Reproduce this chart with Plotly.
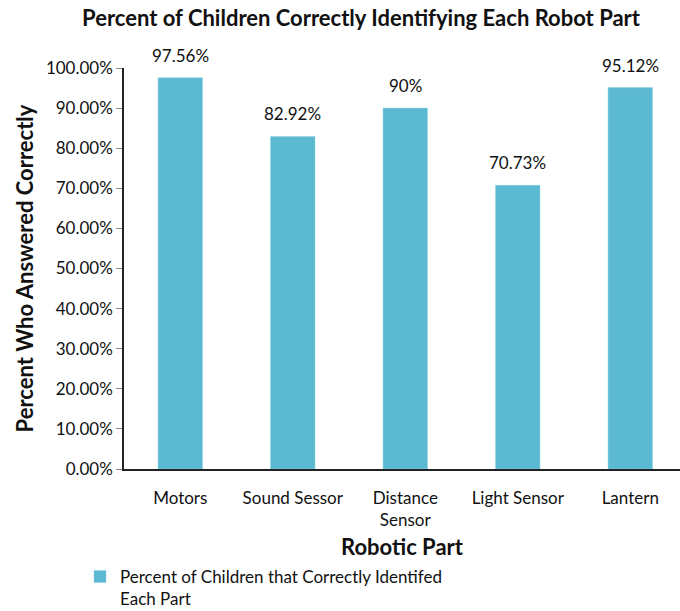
import plotly.graph_objects as go

categories = ["Motors", "Sound Sessor", "Distance<br>Sensor", "Light Sensor", "Lantern"]
values = [0.9756, 0.8292, 0.90, 0.7073, 0.9512]
value_labels = ["97.56%", "82.92%", "90%", "70.73%", "95.12%"]
y_ticks = [0, 0.1, 0.2, 0.3, 0.4, 0.5, 0.6, 0.7, 0.8, 0.9, 1.0]
series_name = "Percent of Children that Correctly Identifed<br>Each Part"

FONT = "Lato"
BAR = "#5bb9d1"
TXT = "#111"

fig = go.Figure()
fig.add_trace(go.Bar(
    x=list(range(len(categories))),
    y=values,
    width=0.395,
    marker=dict(color=BAR, line=dict(color="#8fd0e0", width=0.5)),
    name=series_name,
    showlegend=True,
    hoverinfo="x+y",
))

# value labels above the bars, positioned in data coordinates
for i, (v, lab) in enumerate(zip(values, value_labels)):
    fig.add_annotation(x=i, y=v, text=lab, showarrow=False, xanchor="center",
                       yanchor="bottom", yshift=10,
                       font=dict(family=FONT, size=17, color=TXT))

fig.update_layout(
    width=680, height=611,
    margin=dict(l=124, r=0, t=68, b=142, autoexpand=False),
    paper_bgcolor="white", plot_bgcolor="white",
    font=dict(family=FONT, size=17, color=TXT),
    title=dict(text="<b>Percent of Children Correctly Identifying Each Robot Part</b>",
               x=361 / 680, xanchor="center", y=1 - 18 / 611, yanchor="middle",
               font=dict(family=FONT, size=22, color=TXT)),
    showlegend=True,
    legend=dict(x=(80 - 124) / 556, xanchor="left", y=-(559 - 469) / 401, yanchor="top",
                font=dict(family=FONT, size=17, color=TXT), valign="top",
                borderwidth=0, bgcolor="rgba(0,0,0,0)", itemclick=False),
)

fig.update_xaxes(
    range=[-0.5, 4.442], automargin=False,
    tickmode="array", tickvals=list(range(len(categories))), ticktext=categories,
    showline=True, linecolor="#222", linewidth=1.5,
    ticks="", showgrid=False, zeroline=False,
    ticklabelstandoff=13,
    tickfont=dict(family=FONT, size=17, color=TXT),
    title=dict(text="<b>Robotic Part</b>", font=dict(family=FONT, size=22, color=TXT), standoff=10),
)
fig.update_yaxes(
    range=[0, 1.0], automargin=False,
    tickmode="array", tickvals=y_ticks, tickformat=".2%",
    showline=True, linecolor="#222", linewidth=1.5,
    ticks="outside", ticklen=6, tickcolor="#888", tickwidth=1,
    showgrid=False, zeroline=False,
    tickfont=dict(family=FONT, size=17, color=TXT),
    title=dict(text="<b>Percent Who Answered Correctly</b>", font=dict(family=FONT, size=22, color=TXT), standoff=6),
)

fig.write_html("out.html")
